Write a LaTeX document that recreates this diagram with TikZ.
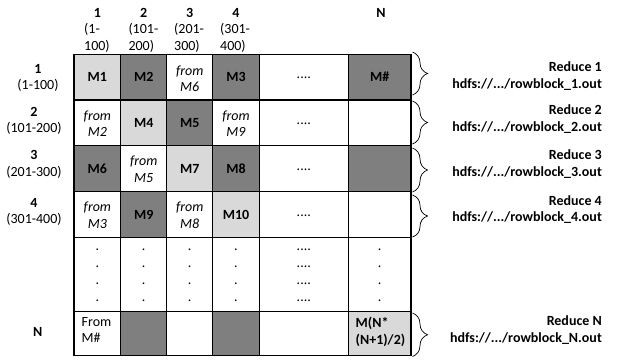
\documentclass[tikz,border=0pt]{standalone}
\usepackage{fontspec}
\setmainfont{Carlito}
\usetikzlibrary{positioning,calc,decorations.pathreplacing}
\definecolor{lightcell}{HTML}{D9D9D9}
\definecolor{darkcell}{HTML}{7F7F7F}
\tikzset{
  every node/.style={inner sep=0pt,font=\fontsize{14}{16.5}\selectfont},
  gridline/.style={line width=1.3pt,line cap=rect},
  hd/.style={font=\fontsize{14}{16.5}\selectfont\bfseries},
  rng/.style={anchor=west,align=left},
  rowhd/.style={align=center},
  mc/.style={font=\fontsize{14}{16.5}\selectfont\bfseries},
  fromc/.style={font=\fontsize{14}{16.5}\selectfont\itshape,align=center},
  red/.style={anchor=east,align=right,font=\fontsize{14}{16.5}\selectfont\bfseries},
  brc/.style={decorate,decoration={brace,amplitude=15pt},line width=0.7pt}
}

\begin{document}
\begin{tikzpicture}[x=1pt,y=-1pt]
\useasboundingbox (0,0) rectangle (617,359);
\fill[lightcell] (74,54.3) rectangle (120.7,100);
\fill[darkcell] (120.7,54.3) rectangle (166.7,100);
\fill[darkcell] (212.7,54.3) rectangle (259.3,100);
\fill[darkcell] (348.3,54.3) rectangle (411,100);
\fill[lightcell] (120.7,100) rectangle (166.7,145.7);
\fill[darkcell] (166.7,100) rectangle (212.7,145.7);
\fill[darkcell] (74,145.7) rectangle (120.7,191.7);
\fill[lightcell] (166.7,145.7) rectangle (212.7,191.7);
\fill[darkcell] (212.7,145.7) rectangle (259.3,191.7);
\fill[darkcell] (348.3,145.7) rectangle (411,191.7);
\fill[darkcell] (120.7,191.7) rectangle (166.7,237.3);
\fill[lightcell] (212.7,191.7) rectangle (259.3,237.3);
\fill[darkcell] (120.7,311.7) rectangle (166.7,355.5);
\fill[darkcell] (212.7,311.7) rectangle (259.3,355.5);
\fill[lightcell] (348.3,311.7) rectangle (411,355.5);
\foreach \y in {54.3,100,145.7,191.7,237.3,311.7,355.5}
  \draw[gridline] (74,\y) -- (411,\y);
\foreach \x in {74,120.7,166.7,212.7,259.3,348.3,411}
  \draw[gridline] (\x,54.3) -- (\x,355.5);

\node[hd] (c1) at (97.4,13) {1};
\node[hd] (c2) at (143.7,13) {2};
\node[hd] (c3) at (189.7,13) {3};
\node[hd] (c4) at (236,13) {4};
\node[hd] (cN) at (381,13) {N};
\node[rng] (c1r) at (84,38) {(1-\\100)};
\node[rng] (c2r) at (128.3,38) {(101-\\200)};
\node[rng] (c3r) at (174,38) {(201-\\300)};
\node[rng] (c4r) at (220,38) {(301-\\400)};

\node[rowhd] (r1) at (38,78) {\textbf{1}\\(1-100)};
\node[rowhd] (r2) at (34,121) {\textbf{2}\\(101-200)};
\node[rowhd] (r3) at (34,164.5) {\textbf{3}\\(201-300)};
\node[rowhd] (r4) at (34,212) {\textbf{4}\\(301-400)};
\node[hd] (rN) at (37.7,331.7) {N};

\node[mc] (m1) at (97.4,77.2) {M1};
\node[mc] (m2) at (143.7,77.2) {M2};
\node[fromc] (f6) at (189.7,78.5) {from\\M6};
\node[mc] (m3) at (236,77.2) {M3};
\node (d1) at (303.8,78) {....};
\node[mc] (mh) at (379.7,77.2) {M\#};
\node[fromc] (f2) at (97.4,123.5) {from\\M2};
\node[mc] (m4) at (143.7,122.9) {M4};
\node[mc] (m5) at (189.7,122.9) {M5};
\node[fromc] (f9) at (236,123.5) {from\\M9};
\node (d2) at (303.8,123.5) {....};
\node[mc] (m6) at (97.4,168.7) {M6};
\node[fromc] (f5) at (143.7,169.3) {from\\M5};
\node[mc] (m7) at (189.7,168.7) {M7};
\node[mc] (m8) at (236,168.7) {M8};
\node (d3) at (303.8,169.5) {....};
\node[fromc] (f3) at (97.4,215) {from\\M3};
\node[mc] (m9) at (143.7,214.5) {M9};
\node[fromc] (f8) at (189.7,215) {from\\M8};
\node[mc] (m10) at (236,214.5) {M10};
\node (d4) at (303.8,215.3) {....};
\foreach \y [count=\k] in {250,266.7,283.3,301} {
  \node (p1\k) at (97.4,\y) {.};
  \node (p2\k) at (143.7,\y) {.};
  \node (p3\k) at (189.7,\y) {.};
  \node (p4\k) at (236,\y) {.};
  \node (p5\k) at (303.8,\y) {....};
  \node (p6\k) at (379.7,\y) {.};
}
\node[rng] (fh) at (81.5,330) {From\\M\#};
\node[rng,mc] (mlast) at (355.5,331.7) {M(N*\\(N+1)/2)};

\node[red] (red1) at (602,76.3) {Reduce 1\\hdfs://.../rowblock\_1.out};
\node[red] (red2) at (602,118.9) {Reduce 2\\hdfs://.../rowblock\_2.out};
\node[red] (red3) at (602,163.9) {Reduce 3\\hdfs://.../rowblock\_3.out};
\node[red] (red4) at (602,209.7) {Reduce 4\\hdfs://.../rowblock\_4.out};
\node[red] (redN) at (602,330.3) {Reduce N\\hdfs://.../rowblock\_N.out};
\draw[brc] (412.5,52) -- (412.5,95);
\draw[brc] (412.5,101) -- (412.5,144);
\draw[brc] (412.5,148) -- (412.5,192);
\draw[brc] (412.5,195) -- (412.5,237);
\draw[brc] (412.5,313) -- (412.5,356.5);
\end{tikzpicture}
\end{document}
